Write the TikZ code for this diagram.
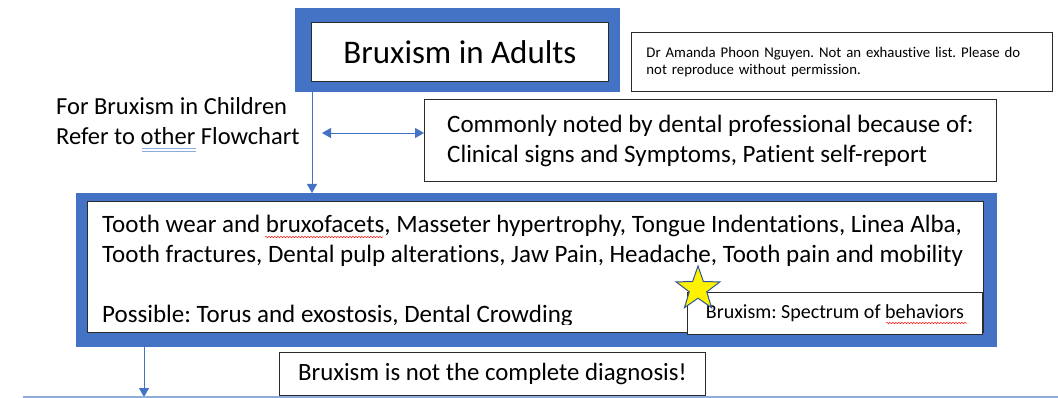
\documentclass[tikz,border=0pt]{standalone}
\usepackage{fontspec}
\setmainfont{Carlito}[Ligatures=NoCommon]
\usepackage{tikz}
\usetikzlibrary{shapes.geometric,arrows.meta,calc,decorations.pathmorphing}
\frenchspacing

\definecolor{officeblue}{HTML}{4472C4}
\definecolor{lightline}{HTML}{8FAADC}
\definecolor{starline}{HTML}{2F5597}
\definecolor{edgegray}{HTML}{2B2B2B}

\begin{document}
\begin{tikzpicture}[x=1pt, y=-1pt,
    bluefill/.style={draw=officeblue, fill=officeblue, inner sep=0pt, anchor=north west},
    panel/.style={draw=edgegray, fill=white, line width=0.9pt, inner sep=0pt, anchor=north west},
    plaintext/.style={anchor=north west, align=left, inner sep=0pt},
    flow/.style={officeblue, line width=0.9pt, -{Triangle[length=9pt, width=10pt]}},
    spell/.style={red, line width=0.5pt, decorate, decoration={snake, amplitude=0.6pt, segment length=3pt}}]
    \useasboundingbox (0,0) rectangle (1058,398);

    % Title and note
    \node[bluefill, minimum width=324pt, minimum height=83pt] (titleframe) at (295,8) {};
    \node[panel, minimum width=297pt, minimum height=59pt, font=\fontsize{33}{38}\selectfont] (title) at (311,22) {Bruxism in Adults};
    \node[panel, minimum width=421pt, minimum height=59pt, text width=391pt, inner xsep=15pt, align=left, font=\fontsize{14.8}{17}\selectfont] (note) at (631,32) {Dr Amanda Phoon Nguyen. Not an exhaustive list. Please do\\ not reproduce without permission.};

    % Side remark
    \node[plaintext, font=\fontsize{24.5}{30}\selectfont] (children) at (56,97.5) {For Bruxism in Children\\ Refer to other Flowchart};

    % How it is noted
    \node[panel, minimum width=572pt, minimum height=82pt] (common) at (424,99) {};
    \node[plaintext, font=\fontsize{25}{30}\selectfont] (commontext) at ($(common.north west)+(23,16)$) {Commonly noted by dental professional because of:\\ Clinical signs and Symptoms, Patient self-report};

    % Signs
    \node[bluefill, minimum width=920pt, minimum height=153pt] (signsframe) at (76,193) {};
    \node[panel, minimum width=896pt, minimum height=131pt] (signs) at (87,201) {};
    \begin{scope}
        \clip (signs.north west) rectangle ($(signs.south east)+(0,-8)$);
        \node[plaintext, font=\fontsize{25}{30}\selectfont] (signstext) at ($(signs.north west)+(15,13.5)$) {Tooth wear and bruxofacets, Masseter hypertrophy, Tongue Indentations, Linea Alba,\\ Tooth fractures, Dental pulp alterations, Jaw Pain, Headache, Tooth pain and mobility\\[30pt] Possible: Torus and exostosis, Dental Crowding};
    \end{scope}
    \node[panel, minimum width=295pt, minimum height=42pt, font=\fontsize{20}{24}\selectfont] (spectrum) at (687,292) {Bruxism: Spectrum of behaviors};
    \node[star, star points=5, star point ratio=2.5, draw=starline, fill=yellow, line width=1pt, minimum size=46pt, inner sep=0pt] (star) at (698,289) {};

    % Diagnosis
    \node[panel, minimum width=426pt, minimum height=43pt, font=\fontsize{24.8}{28}\selectfont] (diagnosis) at (279,352) {Bruxism is not the complete diagnosis!};

    % Connectors
    \coordinate (downA) at (312,0);
    \coordinate (downB) at (144,0);
    \coordinate (leftend) at (322,133);
    \coordinate (lineL) at (23,397);
    \coordinate (lineR) at (1058,397);
    \draw[flow] (titleframe.south -| downA) -- (signsframe.north -| downA);
    \draw[officeblue, line width=0.9pt, {Triangle[length=9pt, width=10pt]}-{Triangle[length=9pt, width=10pt]}] (leftend) -- (common.west |- leftend);
    \draw[flow] (signsframe.south -| downB) -- (lineL -| downB);
    \draw[lightline, line width=1.5pt] (lineL) -- (lineR);

    % Proofing marks
    \draw[spell] (265,237) -- (383,237);
    \draw[spell] (886,323) -- (967,323);
    \draw[lightline, line width=0.8pt] (142,148.5) -- (196,148.5) (142,151.5) -- (196,151.5);
\end{tikzpicture}
\end{document}
